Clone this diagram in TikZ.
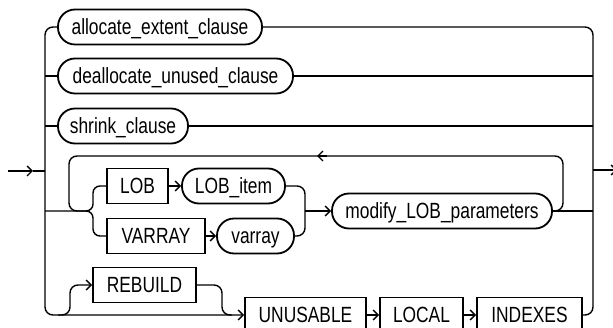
\documentclass[tikz,border=0pt]{standalone}
\usepackage{fontspec}
\setmainfont{Liberation Sans}[FakeStretch=0.79]
\usetikzlibrary{arrows.meta}
\begin{document}
\begin{tikzpicture}[x=1pt,y=-1pt,
  boxbase/.style={draw, line width=1.8pt, minimum height=35pt, inner sep=0pt,
    text height=15.7pt, text depth=0pt, font=\fontsize{22pt}{26pt}\selectfont},
  rbox/.style={boxbase, rounded corners=17pt},
  sbox/.style={boxbase},
  ln/.style={line width=1.4pt},
  arr/.style={ln, -{Straight Barb[length=5pt,width=10pt]}}]
\useasboundingbox (0,0) rectangle (613,328);
% nodes
\node[rbox, minimum width=204pt] (alloc) at (160,27) {allocate\_extent\_clause};
\node[rbox, minimum width=235pt] (dealloc) at (175.5,76) {deallocate\_unused\_clause};
\node[rbox, minimum width=130pt] (shrink) at (123,126) {shrink\_clause};
\node[sbox, minimum width=61pt] (lob) at (137.5,186) {LOB};
\node[rbox, minimum width=103pt] (lobitem) at (233.5,186) {LOB\_item};
\node[sbox, minimum width=98pt] (varray) at (156,236) {VARRAY};
\node[rbox, minimum width=77pt] (varrayitem) at (255.5,236) {varray};
\node[rbox, minimum width=220pt] (modify) at (442,211) {modify\_LOB\_parameters};
\node[sbox, minimum width=103pt] (rebuild) at (144.5,285) {REBUILD};
\node[sbox, minimum width=121pt] (unusable) at (305.5,315) {UNUSABLE};
\node[sbox, minimum width=83pt] (local) at (421.5,315) {LOCAL};
\node[sbox, minimum width=105pt] (indexes) at (529.5,315) {INDEXES};
% coordinates
\coordinate (entry) at (8,171);
\coordinate (entrytip) at (33,171);
\coordinate (lj) at (45,171);
\coordinate (rj) at (593,170);
\coordinate (exit) at (617,170);
\coordinate (split) at (93,211);
\coordinate (loopin) at (82,211);
\coordinate (join) at (305,211);
\coordinate (loopr) at (563,156);
\coordinate (loopl) at (69,156);
\coordinate (loopa) at (327,156);
\coordinate (loopb) at (317,156);
\coordinate (rbstart) at (58,315);
\coordinate (rbup) at (70,285);
\coordinate (rbdown) at (222,315);
\coordinate (rbend) at (232,315);
% entry / exit
\draw[arr] (entry) -- (entrytip);
\draw[ln] (entrytip) -- (lj);
\draw[arr] (rj) -- (exit);
% left side
\draw[ln, rounded corners=8pt] (lj) |- (alloc.west);
\draw[ln] (lj |- dealloc.west) -- (dealloc.west);
\draw[ln] (lj |- shrink.west) -- (shrink.west);
\draw[arr, rounded corners=8pt] (lj) |- (unusable.west);
% right side
\draw[ln, rounded corners=8pt] (alloc.east) -| (rj);
\draw[ln] (dealloc.east) -- (dealloc.east -| rj);
\draw[ln] (shrink.east) -- (shrink.east -| rj);
\draw[ln] (modify.east) -- (modify.east -| rj);
\draw[ln, rounded corners=8pt] (indexes.east) -| (rj);
% LOB / VARRAY
\draw[ln, rounded corners=7pt] (lj |- split) -| (split |- lob.west) -- (lob.west);
\draw[ln, rounded corners=7pt] (loopin) -| (split |- varray.west) -- (varray.west);
\draw[arr] (lob.east) -- (lobitem.west);
\draw[arr] (varray.east) -- (varrayitem.west);
\draw[ln, rounded corners=8pt] (lobitem.east) -| (join);
\draw[ln, rounded corners=8pt] (varrayitem.east) -| (join);
\draw[arr] (join) -- (modify.west);
\draw[ln, rounded corners=8pt] (modify.east) -| (loopr) -- (loopl) |- (loopin);
\draw[arr] (loopa) -- (loopb);
% REBUILD
\draw[arr, rounded corners=8pt] (rbstart) -| (rbup) -- (rebuild.west);
\draw[ln, rounded corners=8pt] (rebuild.east) -| (rbdown) -- (rbend);
% bottom chain
\draw[arr] (unusable.east) -- (local.west);
\draw[arr] (local.east) -- (indexes.west);
\end{tikzpicture}
\end{document}
